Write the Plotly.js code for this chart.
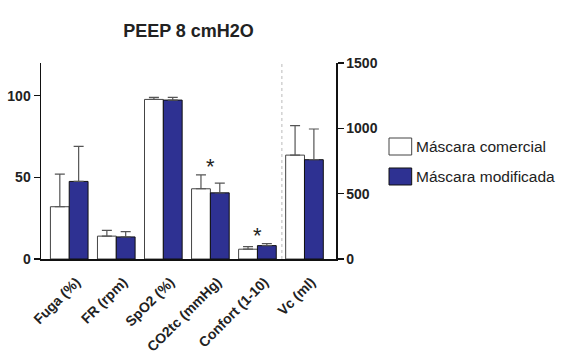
<!DOCTYPE html>
<html>
<head>
<meta charset="utf-8">
<script src="https://cdn.plot.ly/plotly-3.0.1.min.js"></script>
<style>html,body{margin:0;padding:0;background:#fff;}#chart{width:565px;height:361px;}</style>
</head>
<body>
<div id="chart"></div>
<script>
var categories = ['Fuga (%)', 'FR (rpm)', 'SpO2 (%)', 'CO2tc (mmHg)', 'Confort (1-10)', 'Vc (ml)'];
var leftCategories = ['Fuga (%)', 'FR (rpm)', 'SpO2 (%)', 'CO2tc (mmHg)', 'Confort (1-10)'];
var rightCategories = ['Vc (ml)'];
var comercial = [32, 14, 97.7, 43, 6];
var comercialErr = [20, 3.5, 1.3, 8.5, 1.6];
var modificada = [47.5, 13.5, 97.3, 40.5, 8.2];
var modificadaErr = [21.5, 3.2, 1.7, 6, 1.2];
var vcComercial = [795];
var vcComercialErr = [225];
var vcModificada = [760];
var vcModificadaErr = [235];
var leftTicks = [0, 50, 100];
var rightTicks = [0, 500, 1000, 1500];
var seriesNames = ['Máscara comercial', 'Máscara modificada'];
var starCategories = ['CO2tc (mmHg)', 'Confort (1-10)'];
var starY = [59.3, 16.9];

var white = '#ffffff', blue = '#2e3192';
function zeros(a){ return a.map(function(){ return 0; }); }
function bar(x, y, err, color, lineColor, yaxis, group, name){
  return {
    type: 'bar', x: x, y: y, name: name, yaxis: yaxis, offsetgroup: group,
    marker: {color: color, line: {color: lineColor, width: 1}},
    error_y: {type: 'data', symmetric: false, array: err, arrayminus: zeros(err),
              color: '#555', thickness: 1.2, width: 5},
    showlegend: false, hoverinfo: 'x+y'
  };
}
var data = [
  bar(leftCategories, comercial, comercialErr, white, '#444', 'y', 'a', seriesNames[0]),
  bar(leftCategories, modificada, modificadaErr, blue, '#111', 'y', 'b', seriesNames[1]),
  bar(rightCategories, vcComercial, vcComercialErr, white, '#444', 'y2', 'a', seriesNames[0]),
  bar(rightCategories, vcModificada, vcModificadaErr, blue, '#111', 'y2', 'b', seriesNames[1])
];

var font = 'Liberation Sans, Arial, sans-serif';
var annotations = starCategories.map(function(c, i){
  return {x: c, y: starY[i], xref: 'x', yref: 'y', text: '*', showarrow: false,
          font: {family: font, size: 22, color: '#222'}, yanchor: 'middle', yshift: -4};
});
// legend
var legX0 = 1.1797, legX1 = 1.2566, legTextX = 1.2644;
var legY = [[0.5306, 0.6173], [0.3776, 0.4643]];
var legColors = [white, blue];
var shapes = [
  {type: 'line', xref: 'x', yref: 'paper', x0: 4.52, x1: 4.52, y0: 0, y1: 1,
   line: {color: '#bbb', width: 1, dash: 'dot'}}
];
for (var i = 0; i < 2; i++) {
  shapes.push({type: 'rect', xref: 'paper', yref: 'paper', x0: legX0, x1: legX1,
    y0: legY[i][0], y1: legY[i][1], fillcolor: legColors[i],
    line: {color: i === 0 ? '#444' : '#111', width: 1}});
  annotations.push({xref: 'paper', yref: 'paper', x: legTextX, y: (legY[i][0] + legY[i][1]) / 2,
    xanchor: 'left', yanchor: 'middle', text: seriesNames[i], showarrow: false,
    font: {family: font, size: 15.5, color: '#222'}});
}

var layout = {
  width: 565, height: 361,
  margin: {l: 41, r: 229, t: 63, b: 102, pad: 0},
  paper_bgcolor: '#fff', plot_bgcolor: '#fff',
  font: {family: font, color: '#222'},
  title: {text: '<b>PEEP 8 cmH2O</b>', font: {family: font, size: 18, color: '#222'},
          x: 0.5, xref: 'paper', xanchor: 'center', y: 1, yref: 'paper', yanchor: 'bottom', pad: {b: 26}},
  barmode: 'group', bargap: 0.2, bargroupgap: 0,
  showlegend: false,
  xaxis: {type: 'category', categoryorder: 'array', categoryarray: categories,
          range: [-0.6, 5.67], showline: true, linecolor: '#111', linewidth: 1.5,
          ticks: '', tickangle: -45, showgrid: false, zeroline: false,
          ticklabelstandoff: 8, ticklabelshift: 7,
          tickfont: {family: font, size: 14, color: '#222', weight: 'bold'}},
  yaxis: {range: [0, 120], tickvals: leftTicks, showline: true, linecolor: '#111', linewidth: 1.5,
          ticks: 'outside', ticklen: 6, tickwidth: 1.5, tickcolor: '#111', showgrid: false, zeroline: false,
          tickfont: {family: font, size: 14, color: '#222', weight: 'bold'}},
  yaxis2: {range: [0, 1500], tickvals: rightTicks, overlaying: 'y', side: 'right', anchor: 'x',
           showline: true, linecolor: '#111', linewidth: 1.5,
           ticks: 'outside', ticklen: 6, tickwidth: 1.5, tickcolor: '#111', showgrid: false, zeroline: false,
           tickfont: {family: font, size: 14, color: '#222', weight: 'bold'}},
  shapes: shapes,
  annotations: annotations
};
Plotly.newPlot('chart', data, layout, {staticPlot: true, displayModeBar: false});
</script>
</body>
</html>
